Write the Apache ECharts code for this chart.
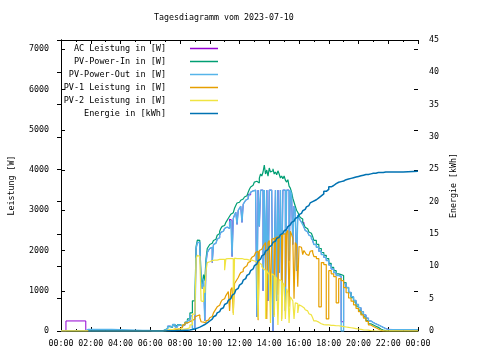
<!DOCTYPE html>
<html><head><meta charset="utf-8">
<script src="https://cdn.jsdelivr.net/npm/echarts@6/dist/echarts.min.js"></script>
<style>html,body{margin:0;padding:0;background:#fff}#c{width:480px;height:360px}</style>
</head><body><div id="c"></div>
<script>
const title = 'Tagesdiagramm vom 2023-07-10';
const xTickLabels = ['00:00','02:00','04:00','06:00','08:00','10:00','12:00','14:00','16:00','18:00','20:00','22:00','00:00'];
const seriesNames = ['AC Leistung in [W]','PV-Power-In in [W]','PV-Power-Out in [W]','PV-1 Leistung in [W]','PV-2 Leistung in [W]','Energie in [kWh]'];

// minutes since 00:00
const times = [
  0,20,100,110,205,330,
  360,370,380,390,400,410,420,430,440,450,460,470,480,490,500,510,520,530,
  540,545,550,555,560,565,570,575,580,585,590,595,
  600,605,610,615,620,625,630,635,640,645,650,655,
  660,665,670,675,680,685,690,695,700,705,710,715,
  720,725,730,735,740,745,750,755,760,765,770,775,
  780,785,790,795,800,805,810,815,820,825,830,835,
  840,845,850,855,860,865,870,875,880,885,890,895,
  900,905,910,915,920,925,930,935,940,945,950,955,
  960,965,970,975,980,985,990,995,1000,1005,1010,1015,
  1020,1030,1040,1050,1060,1070,1080,1090,1100,1110,1120,1130,
  1140,1150,1160,1170,1180,1190,1200,1210,1220,1230,1240,1250,
  1260,1270,1280,1290,1300,1310,1320,
  1380,1440
];

const acPower = [
  0,250,0,0,0,0,
  0,0,0,0,0,20, 50,120,100,160,100,150, 120,150,200,260,380,60,
  270,2050,2200,2200,2150,1200, 1050,1300,250,1700,1950,2000,
  2050,2080,1700,2150,2180,2200, 2280,2320,2380,2450,2480,2500,
  2550,2580,2620,2550,2780,2750, 1850,2800,2880,2950,2650,3000,
  3050,3100,2700,3150,3200,3250, 3280,3400,3380,3450,3480,3500,
  3500,3500,350,3500,2600,3500, 3500,1000,3500,1500,3500,750,
  3500,3500,3500,0,1750,3500, 750,3500,1450,3500,900,3500,
  3500,500,3500,3500,1750,3500, 3400,2150,3100,3000,1500,2880,
  2800,2750,2700,2700,2580,2500, 2460,2420,2380,2350,2300,2250,
  2150,2080,1980,1900,1830,1750, 1640,1540,1450,1380,1360,230,
  1180,1080,960,850,760,660, 580,480,400,320,250,210,
  180,150,120,90,60,40, 30,
  30,30
];
const pvIn = [
  0,0,0,0,0,0,
  0,0,0,0,0,30, 60,110,90,150,110,160, 130,170,220,300,450,750,
  820,2100,2260,2250,2200,1300, 1150,1400,1250,1800,2050,2100,
  2150,2180,2200,2250,2280,2300, 2380,2420,2480,2550,2600,2620,
  2660,2700,2750,2800,2850,2900, 2940,2980,3050,3120,3180,3200,
  3220,3250,3280,3300,3330,3360, 3400,3450,3520,3580,3620,3660,
  3700,3720,3750,3680,3800,3900, 3850,3950,4120,3900,4000,3850,
  4050,3950,3980,4030,3900,3950, 3880,3980,3900,3800,3850,3780,
  3850,3750,3700,3760,3600,3550, 3450,3300,3200,3100,3000,2950,
  2880,2820,2780,2700,2640,2580, 2540,2500,2460,2430,2400,2350,
  2250,2150,2050,1950,1880,1800, 1680,1580,1500,1420,1400,1380,
  1200,1080,950,830,720,620, 520,420,350,260,180,150,
  120,90,50,25,10,0, 0,
  0,0
];
const pvOut = [
  10,10,40,40,15,15,
  0,0,0,0,0,20, 50,120,100,160,100,150, 120,150,200,260,380,60,
  60,2050,2200,2200,2150,1200, 1050,1300,250,1700,1950,2000,
  2050,2080,1700,2150,2180,2200, 2280,2320,2380,2450,2480,2500,
  2550,2580,2620,2550,2700,2750, 1850,2800,2880,2950,2650,3000,
  3050,3100,2700,3150,3200,3250, 3280,3330,3380,3450,3480,3500,
  3500,3500,350,3500,2600,3500, 3500,1000,3500,1500,3500,750,
  3500,3500,3500,0,1750,3500, 750,3500,1450,3500,900,3500,
  3500,500,3500,3500,1750,3500, 3400,2150,3100,3000,1500,2880,
  2800,2750,2700,2640,2580,2500, 2460,2420,2380,2350,2300,2250,
  2150,2080,1980,1900,1830,1750, 1640,1540,1450,1380,1360,0,
  1180,1080,960,850,760,660, 580,480,400,320,250,210,
  180,150,120,90,60,40, 30,
  30,30
];
const pv1 = [
  0,0,0,0,0,0,
  0,0,0,0,0,0, 0,10,20,30,40,60, 90,150,200,230,260,300,
  350,380,400,400,330,230, 220,200,200,250,270,300,
  330,360,400,450,500,550, 600,640,680,720,770,800,
  830,880,930,980,500,1030, 1080,440,1180,1230,1280,1330,
  1400,1450,1480,1530,1580,1620, 1660,1700,1730,1780,1830,1870,
  1900,1950,1980,270,2000,2030, 2050,2100,2150,2200,300,2200,
  2250,700,2280,2300,400,2320, 2340,900,2360,2380,300,2400,
  2420,1100,2450,2500,600,2480, 2400,2300,800,2200,2150,1100,
  2100,2080,2050,1900,2000,1950, 1900,1880,1850,1980,2000,1950,
  1850,1800,600,1700,1650,300, 1500,1420,1350,700,1300,1250,
  1080,950,820,740,650,560, 480,400,320,240,150,110,
  80,50,20,0,0,0, 0,
  0,0
];
const pv2 = [
  0,0,0,0,0,0,
  0,0,0,0,0,0, 20,40,30,60,50,60, 40,50,60,80,150,420,
  400,1800,1880,1850,1800,750, 730,1100,950,1500,1700,1720,
  1740,1750,1760,1760,1770,1760, 1770,1780,1770,1780,1790,1780,
  1510,1790,1800,1790,1800,1810, 1800,400,1810,1800,1810,1800,
  1790,1800,1790,1780,1790,1780, 1770,1760,1770,1760,1750,1740,
  1730,1720,1700,320,1690,1650, 1600,1550,1510,300,1500,1450,
  1400,200,1420,1380,350,1350, 1300,150,1280,1250,250,1200,
  1150,300,1050,950,200,850, 800,750,300,700,680,450,
  650,620,600,580,560,530, 500,470,430,400,370,330,
  250,220,180,160,150,150, 140,140,130,130,120,110,
  100,90,80,70,60,50, 40,30,25,20,10,5,
  0,0,0,0,0,0, 0,
  0,0
];
const energy = [
  null,null,null,0,0,0,
  0,0,0,0,0,0, 0.02,0.03,0.04,0.05,0.06,0.07, 0.08,0.1,0.12,0.15,0.22,0.3,
  0.4,0.45,0.5,0.6,0.7,0.8, 0.9,1.0,1.1,1.25,1.4,1.55,
  1.7,1.85,2.0,2.2,2.4,2.6, 2.8,3.0,3.2,3.4,3.6,3.85,
  4.1,4.3,4.5,4.75,5.0,5.25, 5.5,5.8,6.1,6.35,6.6,6.85,
  7.1,7.35,7.6,7.85,8.1,8.35, 8.6,8.85,9.1,9.35,9.6,9.85,
  10.1,10.35,10.6,10.85,11.1,11.35, 11.6,11.85,12.1,12.35,12.6,12.8,
  13.0,13.25,13.5,13.7,13.9,14.1, 14.3,14.5,14.7,14.9,15.1,15.3,
  15.5,15.7,15.9,16.15,16.4,16.6, 16.8,17.0,17.2,17.4,17.6,17.8,
  18.0,18.2,18.4,18.6,18.8,19.0, 19.2,19.4,19.6,19.8,20.0,20.15,
  20.3,20.6,20.9,21.2,21.6,21.9, 22.3,22.5,22.8,23.0,23.1,23.2,
  23.4,23.5,23.6,23.7,23.8,23.9, 24.0,24.1,24.2,24.2,24.3,24.4,
  24.4,24.5,24.5,24.5,24.6,24.6, 24.6,
  24.7,24.7
];

const colors = ['#9400d3','#009e73','#56b4e9','#e69f00','#f0e442','#0072b2'];
const widths = [1, 1.2, 1.4, 1.2, 1.2, 1.5];
const valuesList = [acPower, pvIn, pvOut, pv1, pv2, energy];
const FONT = 'DejaVu Sans Mono';
const FS = 8.3;

const chart = echarts.init(document.getElementById('c'), null, {renderer: 'canvas'});
const legendRows = [49, 62, 75, 88, 101, 114];

const xCommon = {
  type: 'value', min: 0, max: 1440, interval: 120,
  splitLine: {show: false},
  axisLine: {show: true, onZero: false, lineStyle: {color: '#000', width: 1}},
  axisTick: {show: true, inside: true, length: 4, lineStyle: {color: '#000'}},
  minorTick: {show: true, splitNumber: 2, length: 2, lineStyle: {color: '#000'}}
};

chart.setOption({
  animation: false,
  backgroundColor: '#fff',
  title: {
    text: title, left: 154, top: 14, padding: 0,
    textStyle: {fontFamily: FONT, fontSize: FS, fontWeight: 'normal', color: '#000'}
  },
  legend: seriesNames.map((n, i) => ({
    data: [n], orient: 'vertical', right: 262, top: legendRows[i] - 5,
    padding: 0, align: 'right', itemWidth: 28, itemHeight: 1.5, icon: 'rect',
    selectedMode: false,
    textStyle: {fontFamily: FONT, fontSize: 8.5, color: '#000', padding: [0, 19, 0, 0]}
  })),
  grid: {left: 58, right: 62, top: 40, bottom: 29, containLabel: false},
  xAxis: [
    Object.assign({}, xCommon, {
      position: 'bottom',
      axisLabel: {fontFamily: FONT, fontSize: FS, color: '#000', margin: 9,
        formatter: v => xTickLabels[Math.round(v / 120)]}
    }),
    Object.assign({}, xCommon, {position: 'top', axisLabel: {show: false}})
  ],
  yAxis: [
    {
      type: 'value', min: 0, max: 7230, interval: 1000, position: 'left',
      name: 'Leistung [W]', nameLocation: 'middle', nameGap: 45, nameRotate: 90,
      nameTextStyle: {fontFamily: FONT, fontSize: FS, color: '#000'},
      splitLine: {show: false},
      axisLine: {show: true, lineStyle: {color: '#000'}},
      axisTick: {show: true, inside: true, length: 4, lineStyle: {color: '#000'}},
      axisLabel: {fontFamily: FONT, fontSize: FS, color: '#000', margin: 12, showMaxLabel: false,
        formatter: v => String(v)}
    },
    {
      type: 'value', min: 0, max: 45, interval: 5, position: 'right',
      name: 'Energie [kWh]', nameLocation: 'middle', nameGap: 32, nameRotate: 90,
      nameTextStyle: {fontFamily: FONT, fontSize: FS, color: '#000'},
      splitLine: {show: false},
      axisLine: {show: true, lineStyle: {color: '#000'}},
      axisTick: {show: true, inside: true, length: 4, lineStyle: {color: '#000'}},
      axisLabel: {fontFamily: FONT, fontSize: FS, color: '#000', margin: 11,
        formatter: v => String(v)}
    },
    {
      type: 'value', min: 0, max: 7230, interval: 1000, position: 'right',
      splitLine: {show: false},
      axisLine: {show: false},
      axisTick: {show: true, inside: true, length: 4, lineStyle: {color: '#000'}},
      axisLabel: {show: false}
    }
  ],
  series: seriesNames.map((n, i) => ({
    name: n, type: 'line', step: 'end', symbol: 'none', showSymbol: false,
    yAxisIndex: i === 5 ? 1 : 0,
    connectNulls: false,
    color: colors[i],
    lineStyle: {width: widths[i], color: colors[i]},
    itemStyle: {color: colors[i]},
    data: times.map((t, k) => [t, valuesList[i][k]])
  }))
});
</script></body></html>
